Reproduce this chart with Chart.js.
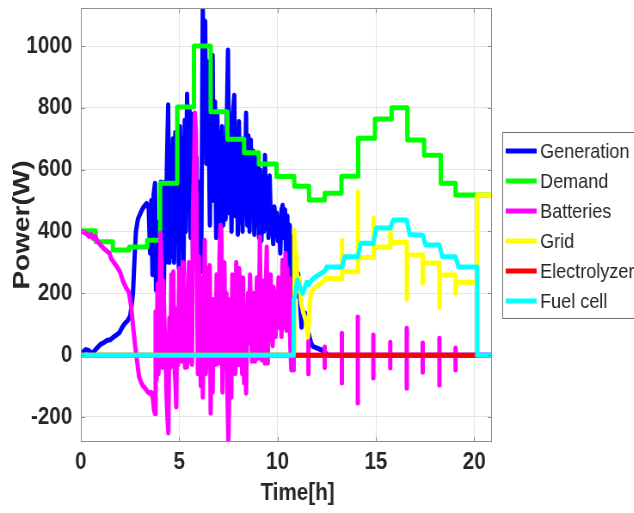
<!DOCTYPE html>
<html>
<head>
<meta charset="utf-8">
<script src="https://cdn.jsdelivr.net/npm/chart.js@4.4.1/dist/chart.umd.min.js"></script>
<style>
  html, body { margin: 0; padding: 0; background: #fff; overflow: hidden; }
  #wrap { width: 737px; height: 513px; transform: scaleX(0.86); transform-origin: 0 0; }
</style>
</head>
<body>
<div id="wrap"><canvas id="powerChart" width="737" height="513"></canvas></div>
<script>
// Axis ticks
const xTicks = [0, 5, 10, 15, 20];
const yTicks = [-200, 0, 200, 400, 600, 800, 1000];

// [time h, power W]
const generation = [
    [0,0],[0.1,10],[0.25,18],[0.4,15],[0.5,8],[0.65,10],[0.8,22],[1.0,35],[1.2,42],[1.35,48],[1.5,50],[1.65,58],
    [1.8,65],[1.95,72],[2.1,90],[2.24,103],[2.38,112],[2.5,125],[2.58,160],[2.65,200],[2.72,300],[2.8,400],[2.9,440],
    [3.0,455],[3.1,469],[3.2,480],[3.34,491],[3.45,475],[3.52,330],[3.58,500],[3.64,260],[3.7,520],[3.77,556],[3.82,210],
    [3.87,380],[3.92,200],[3.97,430],[4.02,220],[4.07,560],[4.12,260],[4.17,520],[4.22,200],[4.27,560],[4.32,300],
    [4.37,600],[4.44,810],[4.5,300],[4.56,640],[4.62,320],[4.68,700],[4.74,300],[4.8,720],[4.86,380],[4.92,680],
    [4.98,280],[5.04,740],[5.1,360],[5.16,700],[5.22,260],[5.28,760],[5.34,400],[5.4,845],[5.46,480],[5.52,800],
    [5.58,380],[5.64,780],[5.7,320],[5.76,700],[5.82,400],[5.88,640],[5.94,280],[6.0,220],[6.06,560],[6.12,270],
    [6.2,1126],[6.26,860],[6.32,1080],[6.38,620],[6.44,950],[6.5,735],[6.56,420],[6.62,880],[6.7,970],[6.76,500],
    [6.82,820],[6.88,380],[6.94,780],[7.0,400],[7.06,720],[7.12,360],[7.18,740],[7.24,420],[7.3,700],[7.36,440],
    [7.42,760],[7.48,987],[7.54,460],[7.6,690],[7.66,400],[7.72,780],[7.8,841],[7.86,450],[7.92,720],[7.98,390],
    [8.04,756],[8.1,430],[8.16,690],[8.22,400],[8.28,700],[8.34,450],[8.4,783],[8.46,420],[8.52,710],[8.58,400],
    [8.64,696],[8.7,450],[8.76,660],[8.82,390],[8.88,640],[8.94,420],[9.0,620],[9.06,380],[9.12,600],[9.18,370],
    [9.24,560],[9.3,400],[9.36,647],[9.42,410],[9.48,560],[9.54,380],[9.6,580],[9.66,420],[9.72,470],[9.78,360],
    [9.84,480],[9.9,390],[9.96,460],[10.02,370],[10.08,440],[10.14,330],[10.2,470],[10.26,485],[10.32,380],[10.38,470],
    [10.44,300],[10.5,450],[10.56,200],[10.62,420],[10.68,100],[10.74,380],[10.8,150],[10.86,300],[10.92,190],
    [10.98,230],[11.04,265],[11.1,240],[11.16,150],[11.22,90],[11.3,130],[11.4,136],[11.5,95],[11.6,65],[11.7,40],
    [11.8,28],[11.95,24],[12.1,20],[12.25,16],[12.4,10],[12.55,0],[20.9,0]
];

// hourly demand levels, each starting at the given time
const demand = [
    [0,402],[0.75,367],[1.63,340],[2.46,350],[3.37,372],[4.03,556],[4.9,803],[5.75,1000],[6.6,787],[7.45,698],
    [8.3,655],[9.05,618],[9.95,578],[10.85,546],[11.6,502],[12.4,524],[13.25,579],[14.1,702],[14.95,764],[15.8,800],
    [16.6,696],[17.45,647],[18.3,556],[19.05,518],[20.9,518]
];

const batteries = [
    [0,400],[0.15,398],[0.3,392],[0.42,384],[0.52,390],[0.62,378],[0.72,384],[0.85,368],[1.0,356],[1.15,346],[1.3,338],
    [1.45,330],[1.55,312],[1.7,298],[1.85,285],[2.0,268],[2.15,238],[2.3,218],[2.45,202],[2.55,160],[2.66,90],[2.76,30],
    [2.86,-20],[2.96,-70],[3.06,-88],[3.16,-100],[3.27,-107],[3.38,-118],[3.48,-123],[3.58,-120],[3.66,-140],[3.72,-178],
    [3.78,-190],[3.8,140],[3.85,-80],[3.9,230],[3.95,-60],[4.0,170],[4.05,395],[4.1,280],[4.15,-40],[4.2,240],
    [4.25,100],[4.3,30],[4.35,-120],[4.4,-200],[4.45,-252],[4.5,120],[4.55,-40],[4.6,260],[4.65,60],[4.7,270],
    [4.75,-20],[4.8,-80],[4.85,-168],[4.9,150],[4.95,-30],[5.0,280],[5.05,50],[5.1,230],[5.15,-20],[5.2,300],
    [5.25,100],[5.3,-40],[5.35,80],[5.4,-38],[5.45,250],[5.5,300],[5.55,-20],[5.6,150],[5.65,-30],[5.7,480],
    [5.75,600],[5.8,783],[5.85,720],[5.9,300],[5.95,-60],[6.0,320],[6.05,40],[6.1,-100],[6.15,250],[6.2,-136],
    [6.25,120],[6.3,372],[6.35,-60],[6.4,230],[6.45,280],[6.5,-40],[6.55,290],[6.6,-188],[6.65,100],[6.7,-120],
    [6.75,180],[6.8,60],[6.85,-30],[6.9,260],[6.95,150],[7.0,-26],[7.05,330],[7.1,420],[7.15,380],[7.2,-120],
    [7.25,100],[7.3,300],[7.35,-40],[7.4,200],[7.45,-120],[7.5,-285],[7.55,-80],[7.6,180],[7.65,-136],[7.7,260],
    [7.75,40],[7.8,243],[7.85,-60],[7.9,300],[7.95,120],[8.0,-30],[8.05,280],[8.1,200],[8.15,60],[8.2,-60],
    [8.25,250],[8.3,-90],[8.35,150],[8.4,-123],[8.45,90],[8.5,200],[8.55,40],[8.6,260],[8.65,120],[8.7,-20],
    [8.75,200],[8.8,160],[8.85,-20],[8.9,123],[8.95,250],[9.0,-10],[9.05,90],[9.1,382],[9.15,100],[9.2,-16],
    [9.25,240],[9.3,120],[9.35,-26],[9.4,200],[9.45,350],[9.5,-26],[9.55,200],[9.6,50],[9.65,260],[9.7,113],
    [9.75,30],[9.8,220],[9.85,168],[9.9,60],[9.95,200],[10.0,90],[10.05,250],[10.1,100],[10.15,168],[10.2,60],
    [10.25,307],[10.3,90],[10.35,120],[10.4,330],[10.45,80],[10.5,280],[10.55,120],[10.6,250],[10.65,30],[10.7,-48],
    [10.75,100],[10.82,0]
];
// short battery pulses at each demand step after sunset
const spikeT  = [10.82, 11.57, 12.4, 13.27, 14.08, 14.87, 15.73, 16.57, 17.38, 18.23, 19.05];
const spikeHi = [0, 45, 26, 71, 123, 65, 42, 87, 39, 55, 23];
const spikeLo = [-48, -60, -40, -90, -155, -74, -42, -107, -55, -97, -48];

const grid = [
    [0,0],[10.85,0],[10.85,405],[10.9,300],[10.96,330],[11.02,210],[11.1,250],[11.2,170],[11.3,140],[11.42,115],
    [11.55,58],[11.62,150],[11.7,205],[11.8,212],[11.95,220],[12.1,228],[12.25,236],[12.4,243],[12.45,248],[13.27,248],
    [13.27,372],[13.29,270],[14.08,270],[14.08,528],[14.1,316],[14.87,316],[14.87,443],[14.9,350],[15.73,350],
    [15.73,414],[15.76,365],[16.57,365],[16.57,180],[16.6,324],[17.38,324],[17.38,233],[17.41,298],[18.23,298],
    [18.23,155],[18.26,259],[19.05,259],[19.05,200],[19.08,236],[20.15,236],[20.15,518],[20.9,518]
];

const electrolyzer = [[0,0],[20.15,0]];

const fuelCell = [
    [0,0],[10.82,0],[10.82,180],[10.9,192],[11.0,243],[11.08,232],[11.18,212],[11.28,200],[11.38,218],[11.48,236],
    [11.58,228],[11.7,240],[11.85,250],[12.0,256],[12.2,264],[12.4,272],[12.5,285],[13.27,285],[13.42,318],[14.08,318],
    [14.23,362],[14.87,362],[15.02,411],[15.73,411],[15.88,437],[16.57,437],[16.72,390],[17.38,388],[17.53,356],
    [18.23,356],[18.38,318],[19.05,318],[19.2,285],[20.15,285],[20.15,0],[20.9,0]
];

const FONT = "'Liberation Sans', Arial, sans-serif";
const TXT = '#262626';

function pts(pairs) {
    return pairs.map(p => ({ x: p[0], y: p[1] }));
}

function batteryPoints() {
    const out = pts(batteries);
    spikeT.forEach((t, i) => {
        out.push({ x: t, y: 0 }, { x: t, y: spikeHi[i] }, { x: t, y: spikeLo[i] }, { x: t, y: 0 });
    });
    out.push({ x: 20.9, y: 0 });
    return out;
}

const series = [
    { label: 'Generation', data: pts(generation), color: '#0000ff' },
    { label: 'Demand', data: pts(demand), color: '#00ff00', stepped: 'before' },
    { label: 'Batteries', data: batteryPoints(), color: '#ff00ff' },
    { label: 'Grid', data: pts(grid), color: '#ffff00' },
    { label: 'Electrolyzer', data: pts(electrolyzer), color: '#ff0000' },
    { label: 'Fuel cell', data: pts(fuelCell), color: '#00ffff' }
];

// box, inner ticks, x label and the legend
const frame = {
    id: 'frame',
    afterDraw(chart) {
        const { ctx, chartArea: a, scales: { x, y } } = chart;
        ctx.save();
        ctx.strokeStyle = '#8c8c8c';
        ctx.lineWidth = 1;
        ctx.strokeRect(a.left + 0.5, a.top + 0.5, a.width - 1, a.height - 1);
        ctx.beginPath();
        xTicks.forEach(v => {
            const px = Math.round(x.getPixelForValue(v)) + 0.5;
            ctx.moveTo(px, a.bottom); ctx.lineTo(px, a.bottom - 5);
            ctx.moveTo(px, a.top); ctx.lineTo(px, a.top + 5);
        });
        yTicks.forEach(v => {
            const py = Math.round(y.getPixelForValue(v)) + 0.5;
            ctx.moveTo(a.left, py); ctx.lineTo(a.left + 5, py);
            ctx.moveTo(a.right, py); ctx.lineTo(a.right - 5, py);
        });
        ctx.stroke();

        ctx.fillStyle = TXT;
        ctx.font = `bold 24px ${FONT}`;
        ctx.textAlign = 'center';
        ctx.textBaseline = 'middle';
        ctx.fillText('Time[h]', 346, 493);

        // legend
        const lx = 584, ly = 132;
        ctx.fillStyle = '#fff';
        ctx.fillRect(lx, ly, 170, 186);
        ctx.strokeStyle = '#6e6e6e';
        ctx.strokeRect(lx + 0.5, ly + 0.5, 170, 186);
        ctx.font = `21px ${FONT}`;
        ctx.textAlign = 'left';
        chart.data.datasets.forEach((ds, i) => {
            const cy = 151 + i * 30;
            ctx.strokeStyle = ds.borderColor;
            ctx.lineWidth = 5;
            ctx.beginPath();
            ctx.moveTo(588, cy); ctx.lineTo(624, cy);
            ctx.stroke();
            ctx.fillStyle = TXT;
            ctx.fillText(ds.label, 628, cy + 1);
        });
        ctx.restore();
    }
};

new Chart(document.getElementById('powerChart'), {
    type: 'line',
    data: {
        datasets: series.map((s, i) => ({
            label: s.label,
            data: s.data,
            borderColor: s.color,
            backgroundColor: s.color,
            borderWidth: 5,
            pointRadius: 0,
            tension: 0,
            fill: false,
            stepped: s.stepped || false,
            borderJoinStyle: 'round',
            borderCapStyle: 'round',
            order: series.length - 1 - i
        }))
    },
    options: {
        responsive: false,
        animation: false,
        devicePixelRatio: 1,
        layout: { padding: { left: 0, top: 8, right: 165, bottom: 0 } },
        plugins: { legend: { display: false }, tooltip: { enabled: false } },
        scales: {
            x: {
                type: 'linear',
                min: 0,
                max: 20.9,
                afterBuildTicks: s => { s.ticks = xTicks.map(v => ({ value: v })); },
                afterFit: s => { s.height = 71; s.paddingLeft = 0; s.paddingRight = 0; },
                grid: { color: '#e4e4e4', drawTicks: false },
                border: { display: false },
                ticks: { padding: 6, color: TXT, maxRotation: 0, callback: v => String(v),
                         font: { family: FONT, size: 24, weight: 'bold' } }
            },
            y: {
                min: -281,
                max: 1123,
                afterBuildTicks: s => { s.ticks = yTicks.map(v => ({ value: v })); },
                afterFit: s => { s.width = 94; s.paddingTop = 0; s.paddingBottom = 0; },
                grid: { color: '#e4e4e4', drawTicks: false },
                border: { display: false },
                ticks: { padding: 10, color: TXT, callback: v => String(v),
                         font: { family: FONT, size: 24, weight: 'bold' } },
                title: {
                    display: true,
                    text: 'Power(W)',
                    color: TXT,
                    font: { family: FONT, size: 28, weight: 'bold' },
                    padding: { top: 9, bottom: 0 }
                }
            }
        }
    },
    plugins: [frame]
});
</script>
</body>
</html>
